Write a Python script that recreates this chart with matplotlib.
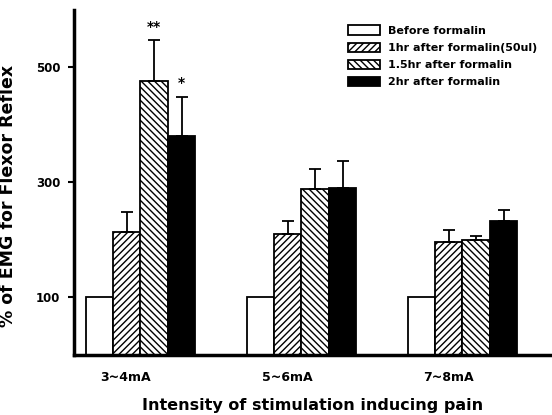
import numpy as np
import matplotlib.pyplot as plt
from matplotlib.patches import Patch

# data
groups = ['3~4mA', '5~6mA', '7~8mA']
series = ['Before formalin', '1hr after formalin(50ul)',
          '1.5hr after formalin', '2hr after formalin']
before = [100, 100, 100]
hr1 = [213, 210, 197]
hr15 = [477, 289, 199]
hr2 = [380, 290, 233]
err_before = [0, 0, 0]
err_hr1 = [35, 23, 21]
err_hr15 = [70, 35, 7]
err_hr2 = [68, 47, 19]
stars = {(2, 0): '**', (3, 0): '*'}

plt.rcParams['font.family'] = 'DejaVu Sans'
plt.rcParams['font.weight'] = 'bold'
plt.rcParams['hatch.linewidth'] = 1.0

fig = plt.figure(figsize=(5.52, 4.15), dpi=100)
ax = fig.add_axes([0.134, 0.145, 0.866, 0.831])

values = [before, hr1, hr15, hr2]
errors = [err_before, err_hr1, err_hr15, err_hr2]
hatches = ['', '/////', '\\\\\\\\\\', '']
colors = ['white', 'white', 'white', 'black']
w = 0.17
x = np.arange(len(groups))

for i in range(4):
    pos = x + (i - 1.5) * w
    ax.bar(pos, values[i], width=w, color=colors[i], edgecolor='black',
           hatch=hatches[i], linewidth=1.3)
    if i > 0:
        ax.errorbar(pos, values[i], yerr=[np.zeros(3), errors[i]], fmt='none',
                    ecolor='black', elinewidth=1.3, capsize=4, capthick=1.3)

for (i, g), s in stars.items():
    pos = x[g] + (i - 1.5) * w
    ax.text(pos, values[i][g] + errors[i][g] + 12, s, ha='center', va='bottom',
            fontsize=10, fontweight='bold')

ax.set_xlim(-0.413, 2.556)
ax.set_ylim(0, 600)
ax.set_yticks([100, 300, 500])
ax.set_xticks(x - 0.09)
ax.set_xticklabels(groups, fontsize=9, fontweight='bold')
ax.tick_params(axis='x', length=0, pad=12)
ax.tick_params(axis='y', length=4, width=1.5, labelsize=8.5, pad=6)
ax.spines['top'].set_visible(False)
ax.spines['right'].set_visible(False)
ax.spines['left'].set_linewidth(2.5)
ax.spines['bottom'].set_linewidth(2.5)

ax.set_xlabel('Intensity of stimulation inducing pain', fontsize=11.5,
              fontweight='bold', labelpad=10)
ax.set_ylabel('% of EMG for Flexor Reflex', fontsize=12.5, fontweight='bold')
ax.yaxis.set_label_coords(-0.12, 0.46)

handles = [Patch(facecolor=colors[i], edgecolor='black', hatch=hatches[i],
                 linewidth=1.3) for i in range(4)]
ax.legend(handles, series, loc='upper left', bbox_to_anchor=(0.573, 0.955),
          frameon=False, handlelength=2.9, handleheight=0.9,
          labelspacing=0.6, handletextpad=0.7, borderpad=0, borderaxespad=0,
          prop={'weight': 'bold', 'size': 8})

fig.savefig('out.png', dpi=100)
